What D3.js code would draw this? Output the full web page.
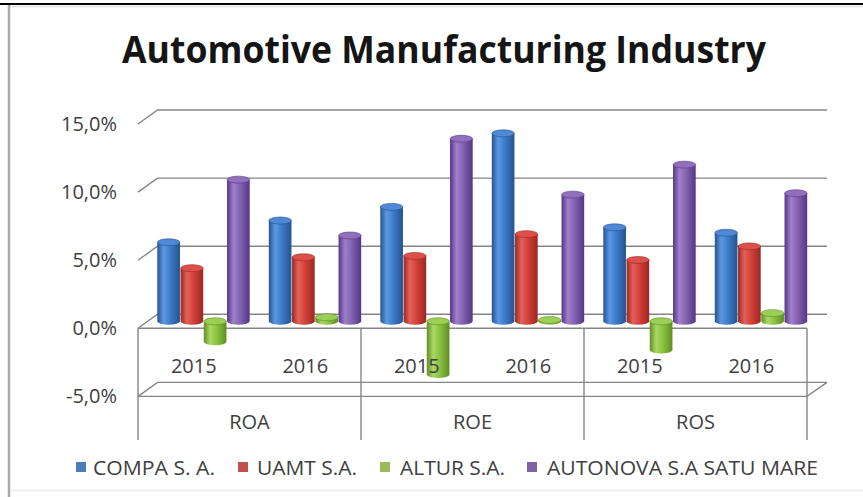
<!DOCTYPE html>
<html>
<head>
<meta charset="utf-8">
<script src="https://cdn.jsdelivr.net/npm/d3@7"></script>
<style>
  body { margin: 0; background: #fff; }
  svg { display: block; }
</style>
</head>
<body>
<svg id="chart" width="863" height="497"></svg>
<script>
// ---- data ----
const indicators = ["ROA", "ROE", "ROS"];
const years = ["2015", "2016"];
const companies = ["COMPA S. A.", "UAMT S.A.", "ALTUR S.A.", "AUTONOVA S.A SATU MARE"];
// percent values, order: ROA 2015, ROA 2016, ROE 2015, ROE 2016, ROS 2015, ROS 2016
const compa    = [5.8, 7.4, 8.4, 13.8, 6.9, 6.5];
const uamt     = [3.9, 4.7, 4.8, 6.4, 4.5, 5.5];
const altur    = [-1.5, 0.3, -3.9, 0.1, -2.1, 0.6];
const autonova = [10.4, 6.3, 13.4, 9.3, 11.5, 9.4];
const yTicks = [-5, 0, 5, 10, 15];
const chartTitle = "Automotive Manufacturing Industry";

const seriesValues = [compa, uamt, altur, autonova];
const categories = [];
indicators.forEach(ind => years.forEach(yr => categories.push({ key: ind + "|" + yr, ind, yr })));

// ---- layout ----
const svg = d3.select("#chart");
const FONT = "'Open Sans', 'Noto Sans', sans-serif";
const frontLeft = 138, frontRight = 807;
const depthX = 19.5, depthY = -14;          // front edge -> back wall offset
const backRight = frontRight + 20;
const boxBottom = 440;

const palette = [
  { dark: "#23548f", light: "#5d98e2", mid: "#3d78c6", cap: "#4f89d6", key: "#4a7ebb" },
  { dark: "#9a2722", light: "#e2625b", mid: "#d03f37", cap: "#dc5049", key: "#c0504d" },
  { dark: "#5f8d23", light: "#aad865", mid: "#88bf3f", cap: "#9ccf55", key: "#9bbb59" },
  { dark: "#553684", light: "#a07fcb", mid: "#8160ae", cap: "#906fbd", key: "#8064a2" }
];

// value scale on the back wall; front edge is shifted down by the depth
const y = d3.scaleLinear().domain([-5, 15]).range([382.4, 110]);
const yFront = y.copy().range(y.range().map(r => r - depthY));

const x0 = d3.scaleBand()
  .domain(categories.map(c => c.key))
  .range([frontLeft, frontRight])
  .paddingInner(0.166)
  .paddingOuter(0.083);
const x1 = d3.scaleBand().domain(companies).range([0, x0.bandwidth()]);

const groupX = d3.scaleBand().domain(indicators).range([frontLeft, frontRight]);

// ---- frame ----
svg.append("line").attr("x1", 0).attr("x2", 863).attr("y1", 4).attr("y2", 4)
  .attr("stroke", "#000").attr("stroke-width", 2);
svg.append("line").attr("x1", 10).attr("x2", 863).attr("y1", 6.5).attr("y2", 6.5)
  .attr("stroke", "#e2e2e2").attr("stroke-width", 1.5);
svg.append("line").attr("x1", 9).attr("x2", 9).attr("y1", 5).attr("y2", 497)
  .attr("stroke", "#a9a9a9").attr("stroke-width", 2.5);
svg.append("line").attr("x1", 10).attr("x2", 863).attr("y1", 490.5).attr("y2", 490.5)
  .attr("stroke", "#ececec").attr("stroke-width", 1.5);

// ---- title ----
svg.append("text")
  .attr("x", 122).attr("y", 63)
  .attr("font-family", FONT).attr("font-weight", 700).attr("font-size", 38)
  .attr("fill", "#151515")
  .attr("textLength", 644).attr("lengthAdjust", "spacingAndGlyphs")
  .text(chartTitle);

// ---- gridlines (side wall diagonal + back wall) ----
const gridColor = "#858585";
const grid = svg.append("g").attr("fill", "none").attr("stroke", gridColor).attr("stroke-width", 1.4);
yTicks.forEach(t => {
  grid.append("path")
    .attr("d", `M${frontLeft},${yFront(t)}L${frontLeft + depthX},${y(t)}L${backRight},${y(t)}`);
});
// front edge of the zero floor (top of the category box)
grid.append("line").attr("x1", frontLeft).attr("x2", frontRight)
  .attr("y1", yFront(0)).attr("y2", yFront(0));
// front edge of the -5% floor with its right-hand diagonal
grid.append("path")
  .attr("d", `M${frontLeft},${yFront(-5)}L${frontRight},${yFront(-5)}L${backRight},${y(-5)}`);
// category box dividers
const dividers = indicators.map(ind => groupX(ind)).concat([frontRight]);
dividers.forEach(xv => {
  grid.append("line").attr("x1", xv).attr("x2", xv)
    .attr("y1", yFront(0)).attr("y2", boxBottom);
});

// ---- y axis labels ----
const locale = d3.formatLocale({ decimal: ",", thousands: ".", grouping: [3], currency: ["", "€"], minus: "-" });
const pct = locale.format(".1%");
const yAxis = d3.axisLeft(yFront)
  .tickValues(yTicks)
  .tickSize(0)
  .tickPadding(11)
  .tickFormat(d => pct(d / 100));
const yAxisG = svg.append("g").attr("transform", `translate(128,0)`).call(yAxis);
yAxisG.select(".domain").remove();
yAxisG.selectAll("text")
  .attr("font-family", FONT).attr("font-size", 20).attr("fill", "#404040");

// ---- cylinders ----
const defs = svg.append("defs");
palette.forEach((p, i) => {
  const g = defs.append("linearGradient").attr("id", "cyl" + i)
    .attr("x1", 0).attr("x2", 1).attr("y1", 0).attr("y2", 0);
  g.append("stop").attr("offset", "0%").attr("stop-color", p.dark);
  g.append("stop").attr("offset", "28%").attr("stop-color", p.light);
  g.append("stop").attr("offset", "60%").attr("stop-color", p.mid);
  g.append("stop").attr("offset", "100%").attr("stop-color", p.dark);
});

const ry = 3.5;
const bars = svg.append("g");
categories.forEach((cat, ci) => {
  companies.forEach((comp, si) => {
    const v = seriesValues[si][ci];
    const w = x1.bandwidth();
    const cx = x0(cat.key) + x1(comp) + w / 2 + depthX / 2;
    const yVal = y(v) - depthY / 2;
    const yZero = y(0) - depthY / 2;
    const yUp = Math.min(yVal, yZero), yDown = Math.max(yVal, yZero);
    const rx = w / 2 - 0.3;
    const g = bars.append("g");
    g.append("path")
      .attr("d", `M${cx - rx},${yUp}L${cx - rx},${yDown}A${rx},${ry} 0 0 0 ${cx + rx},${yDown}L${cx + rx},${yUp}Z`)
      .attr("fill", `url(#cyl${si})`);
    g.append("ellipse")
      .attr("cx", cx).attr("cy", yUp).attr("rx", rx).attr("ry", ry)
      .attr("fill", palette[si].cap)
      .attr("stroke", palette[si].dark).attr("stroke-width", 0.6);
  });
});

// ---- category labels ----
const labels = svg.append("g").attr("font-family", FONT).attr("font-size", 20)
  .attr("fill", "#404040").attr("text-anchor", "middle");
categories.forEach(cat => {
  labels.append("text")
    .attr("x", x0(cat.key) + x0.bandwidth() / 2)
    .attr("y", 373)
    .text(cat.yr);
});
indicators.forEach(ind => {
  labels.append("text")
    .attr("x", groupX(ind) + groupX.bandwidth() / 2)
    .attr("y", 429)
    .text(ind);
});

// ---- legend ----
const legendSquareX = [76, 238, 380, 527];
const legendTextX = [93, 257, 400, 547];
const legendTextW = [122, 100, 105, 271];
const legend = svg.append("g").attr("font-family", FONT).attr("font-size", 20).attr("fill", "#404040");
companies.forEach((comp, i) => {
  legend.append("rect")
    .attr("x", legendSquareX[i]).attr("y", 462)
    .attr("width", 10).attr("height", 10)
    .attr("fill", palette[i].key);
  legend.append("text")
    .attr("x", legendTextX[i]).attr("y", 475)
    .attr("textLength", legendTextW[i]).attr("lengthAdjust", "spacingAndGlyphs")
    .text(comp);
});
</script>
</body>
</html>
